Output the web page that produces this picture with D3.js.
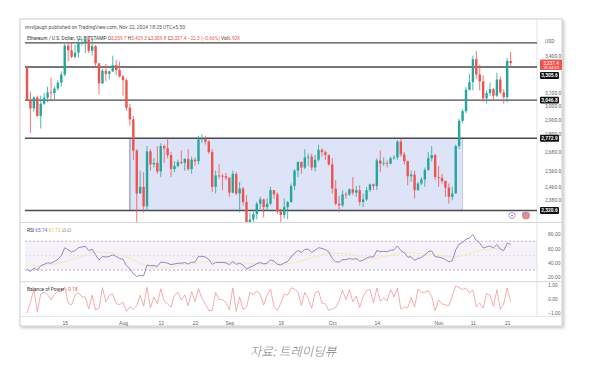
<!DOCTYPE html>
<html><head><meta charset="utf-8">
<script src="https://cdn.jsdelivr.net/npm/d3@7"></script>
<style>body{margin:0;background:#fff;}svg{display:block;font-family:Roboto,"Noto Sans",sans-serif;}</style>
</head><body><svg id="c" width="606" height="366"></svg>
<script>
// ---- data ----
const startDate = "2024-07-04", endDate = "2024-11-22";
const open = [3305,3050,2985,3065,2930,3020,3065,3105,3100,3135,
3180,3245,3485,3445,3390,3425,3505,3515,3535,3440,
3480,3335,3175,3275,3250,3270,3320,3280,3230,3200,
2990,2905,2690,2420,2460,2345,2685,2600,2610,2555,
2720,2705,2660,2570,2590,2615,2610,2635,2570,2630,
2620,2765,2770,2750,2680,2460,2530,2528,2525,2515,
2425,2540,2420,2450,2370,2225,2270,2300,2360,2385,
2340,2360,2440,2415,2315,2295,2340,2370,2465,2560,
2615,2580,2645,2650,2580,2630,2695,2680,2660,2600,
2450,2360,2350,2415,2414,2445,2425,2440,2370,2385,
2440,2475,2465,2625,2605,2610,2605,2640,2645,2750,
2665,2620,2525,2535,2440,2480,2505,2565,2640,2660,
2520,2515,2495,2455,2400,2420,2720,2895,2965,3125,
3185,3370,3245,3190,3060,3100,3130,3080,3205,3105,
3070,3355];
const high = [3310,3110,3075,3080,3080,3100,3150,3220,3150,3200,
3270,3500,3500,3515,3490,3545,3540,3545,3560,3540,
3490,3340,3290,3330,3275,3400,3365,3350,3240,3215,
3020,2930,2700,2560,2550,2720,2700,2640,2720,2740,
2730,2780,2680,2620,2630,2690,2640,2700,2650,2645,
2790,2800,2790,2760,2700,2560,2600,2540,2545,2520,
2560,2550,2490,2460,2410,2310,2325,2370,2400,2390,
2390,2460,2440,2425,2330,2390,2375,2480,2570,2620,
2620,2700,2670,2670,2660,2730,2705,2690,2665,2640,
2500,2405,2440,2430,2450,2520,2465,2470,2420,2460,
2480,2480,2640,2690,2645,2625,2650,2660,2760,2770,
2680,2625,2560,2560,2490,2520,2580,2680,2720,2670,
2590,2540,2500,2480,2460,2730,2910,2980,3145,3250,
3400,3440,3325,3240,3120,3180,3140,3260,3230,3130,
3380,3430];
const low = [3050,2810,2960,2925,2840,3010,3030,3050,3050,3120,
3150,3230,3350,3380,3375,3380,3485,3420,3420,3400,
3300,3090,3170,3190,3205,3265,3240,3220,3080,2970,
2860,2630,2110,2420,2310,2320,2560,2580,2540,2520,
2610,2640,2520,2550,2580,2600,2560,2560,2540,2590,
2600,2740,2730,2670,2430,2420,2510,2440,2500,2400,
2420,2410,2310,2350,2150,2220,2230,2270,2330,2280,
2320,2350,2390,2300,2255,2275,2270,2365,2440,2520,
2540,2570,2590,2560,2555,2620,2650,2630,2590,2420,
2350,2310,2340,2390,2405,2410,2400,2350,2340,2375,
2430,2440,2440,2550,2590,2580,2600,2630,2630,2650,
2600,2470,2490,2390,2435,2470,2460,2560,2620,2500,
2460,2480,2400,2360,2380,2420,2700,2880,2950,3120,
3120,3210,3120,3035,3020,3080,3040,3070,3090,3020,
3030,3310];
const close = [3050,2985,3065,2930,3020,3065,3105,3100,3135,3180,
3245,3485,3445,3390,3425,3505,3515,3535,3440,3480,
3335,3175,3275,3250,3270,3320,3280,3230,3200,2990,
2905,2690,2420,2460,2345,2685,2600,2610,2555,2720,
2705,2660,2570,2590,2615,2610,2635,2570,2630,2620,
2765,2770,2750,2680,2460,2530,2528,2525,2515,2425,
2540,2420,2450,2370,2225,2270,2300,2360,2385,2340,
2360,2440,2415,2315,2295,2340,2370,2465,2560,2615,
2580,2645,2650,2580,2630,2695,2680,2660,2600,2450,
2360,2350,2415,2414,2445,2425,2440,2370,2385,2440,
2475,2465,2625,2605,2610,2605,2640,2645,2750,2665,
2620,2525,2535,2440,2480,2505,2565,2640,2660,2520,
2515,2495,2455,2400,2420,2720,2895,2965,3125,3185,
3370,3245,3190,3060,3100,3130,3080,3205,3105,3070,
3355,3337.4];
const rsi = [31,28,33,30,36,38,40,39.5,42,45,
50,61,58,55,57,61,62,63,57,59,
51,44,49,48,49,51,49,46,45,36,
32,25,21,23,22,37,36,36.5,35,41,
40.5,39.5,37.5,38.5,39.5,39.5,40.5,38.5,41,41,
49,49,48,45,38,40.5,40.5,40.5,40,37.5,
42,38,39.5,37,31.5,34,36,39,40.5,38.5,
39.5,44,42.5,38,37,40,42,48,53.5,57,
54.5,58.5,59,54.5,57.5,61,60,58.5,55,46,
41.5,41,44.5,44.5,46,45,46,42.5,43.5,46.5,
48.5,48,57,55.5,56,55.5,57.5,58,63.5,57,
54,48,48.5,43.5,46,47.5,51,55.5,56.5,48.5,
48,47,44.5,41.5,43,58,66,68.5,73,74.5,
79,71,67.5,60.5,62,63.5,60.5,65.5,59,57,
67,65.74];
const rsiMA = [38,37,36.5,36,36,36.5,37,37.5,38,39,
40,41.5,43,44.5,46,47.5,49,51,52.5,54,
54.5,55,55,54.5,54,53,52,51,50,48.5,
46.5,44,41.5,39.5,37.5,36.5,35.5,34.5,33.5,33,
32.5,33,34,35.5,36.5,37.5,38.5,38.5,38.5,39,
40,41,41.5,42,42,42,42,42,42,41.5,
41.5,41,40.5,40,39.5,39,38.5,38.5,38.5,38.5,
38.5,38.5,38.5,38.5,38.5,38.5,39,39.5,40.5,41.5,
42.5,44,45.5,46.5,48,49.5,51,52,53,53.5,
53.5,53,53,52.5,52,51,50,48.5,47.5,46.5,
46,46,46.5,47.5,48.5,49.5,50.5,51.5,53,54,
54.5,54.5,54,53.5,53,52.5,52,51.5,51.5,51,
50.5,50,49.5,48.5,48,48.5,49,50,51.5,53,
54.5,56,57,58,58.5,59,59.5,60,60.5,61,
61.5,61.7];
const bop = [-0.98,-0.22,0.70,-0.87,0.38,0.50,0.33,-0.03,0.35,0.56,
0.54,0.89,-0.27,-0.41,0.30,0.48,0.18,0.16,-0.68,0.29,
-0.76,-0.64,0.83,-0.18,0.29,0.37,-0.32,-0.38,-0.19,-0.86,
-0.53,-0.72,-0.46,0.29,-0.48,0.85,-0.61,0.17,-0.31,0.75,
-0.13,-0.32,-0.56,0.29,0.50,-0.06,0.31,-0.46,0.55,-0.18,
0.76,0.08,-0.33,-0.78,-0.81,0.50,-0.02,-0.03,-0.22,-0.75,
0.82,-0.86,0.17,-0.73,-0.56,0.50,0.32,0.60,0.36,-0.41,
0.29,0.73,-0.50,-0.80,-0.27,0.39,0.29,0.83,0.73,0.55,
-0.44,0.50,0.06,-0.64,0.48,0.59,-0.27,-0.33,-0.80,-0.68,
-0.60,-0.11,0.65,-0.03,0.69,-0.18,0.23,-0.58,0.19,0.65,
0.70,-0.25,0.80,-0.14,0.09,-0.11,0.70,0.17,0.81,-0.71,
-0.56,-0.61,0.14,-0.56,0.73,0.50,0.50,0.63,0.20,-0.82,
-0.04,-0.33,-0.40,-0.46,0.25,0.97,0.83,0.70,0.82,0.46,
0.66,-0.54,-0.27,-0.63,0.40,0.30,-0.50,0.66,-0.71,-0.32,
0.81,-0.18];
const xTickDates = ["2024-07-15","2024-08-01","2024-08-12","2024-08-22","2024-09-01","2024-09-16","2024-10-01","2024-10-14","2024-11-01","2024-11-11","2024-11-21"];
const xTickLabels = ["15","Aug","12","22","Sep","16","Oct","14","Nov","11","21"];
const priceTicks = [3400,3100,3000,2900,2800,2680,2560,2460,2380];
const levelLines = [3508,3305.6,3046.8,2772.9,2320.6];
const levelBadges = [3305.6,3046.8,2772.9,2320.6];
const rangeBox = {from:"2024-08-03", to:"2024-11-08", top:2772.9, bottom:2320.6};
const lastPrice = 3337.4;
const rsiTicks = [80,60,40,20];
const rsiBands = [70,50,30];
const bopTicks = [1,0,-1];

// ---- setup ----
const svg = d3.select("#c");
const P = s => new Date(s+"T00:00:00Z");
const dates = d3.utcDay.range(P(startDate), d3.utcDay.offset(P(endDate),1));
const L = 25, R = 537;
const x = d3.scaleUtc().domain([P(startDate), P(endDate)]).range([27, 510.6]);
const y = d3.scaleLog().domain([2320.6, 3305.6]).range([210.5, 67]);
const yR = d3.scaleLinear().domain([20,80]).range([277.3,234]);
const yB = d3.scaleLinear().domain([-1,1]).range([313.3,285.3]);
const up="#26a69a", dn="#ef5350";
const fmt = d3.format(",.1f");

// frame with shadow
const defs = svg.append("defs");
const f = defs.append("filter").attr("id","sh").attr("x","-5%").attr("y","-5%").attr("width","110%").attr("height","110%");
f.append("feDropShadow").attr("dx",1.5).attr("dy",1.5).attr("stdDeviation",1.5).attr("flood-color","#000").attr("flood-opacity",0.25);
svg.append("rect").attr("x",20).attr("y",19).attr("width",542).attr("height",307).attr("fill","#fff").attr("stroke","#cfcfcf").attr("filter","url(#sh)");
defs.append("clipPath").attr("id","mc").append("rect").attr("x",L).attr("y",36).attr("width",R-L).attr("height",186);

// header
svg.append("text").attr("x",25).attr("y",29).attr("font-size",4.8).attr("fill","#555")
  .attr("textLength",160).attr("lengthAdjust","spacingAndGlyphs")
  .text("invvljaugh published on TradingView.com, Nov 22, 2024 18:25 UTC+5:30");
const h2 = svg.append("text").attr("x",27).attr("y",39.5).attr("font-size",4.8);
h2.append("tspan").attr("fill","#333").text("Ethereum / U.S. Dollar, 1D, BITSTAMP ");
h2.append("tspan").attr("fill","#333").text(" O");
h2.append("tspan").attr("fill",dn).text("3,359.7 ");
h2.append("tspan").attr("fill","#333").text("H");
h2.append("tspan").attr("fill",dn).text("3,429.3 ");
h2.append("tspan").attr("fill","#333").text("L");
h2.append("tspan").attr("fill",dn).text("3,309.8 ");
h2.append("tspan").attr("fill","#333").text("C");
h2.append("tspan").attr("fill",dn).text("3,337.4 −22.3 (−0.66%) ");
h2.append("tspan").attr("fill","#333").text(" Vol");
h2.append("tspan").attr("fill",dn).text("6.92K");

// pane separators
svg.append("line").attr("x1",20).attr("x2",562).attr("y1",222.5).attr("y2",222.5).attr("stroke","#d6d6d6");
svg.append("line").attr("x1",20).attr("x2",562).attr("y1",281.7).attr("y2",281.7).attr("stroke","#d6d6d6");
svg.append("line").attr("x1",20).attr("x2",562).attr("y1",316.5).attr("y2",316.5).attr("stroke","#e6e6e6");
svg.append("line").attr("x1",R).attr("x2",R).attr("y1",19).attr("y2",316.5).attr("stroke","#e3e3e3");

// main pane
const main = svg.append("g").attr("clip-path","url(#mc)");
main.append("rect").attr("x",x(P(rangeBox.from))).attr("y",y(rangeBox.top))
  .attr("width",x(P(rangeBox.to))-x(P(rangeBox.from))).attr("height",y(rangeBox.bottom)-y(rangeBox.top))
  .attr("fill","#dde4f8").attr("stroke","#b9c3e2").attr("stroke-width",0.8);
main.append("line").attr("x1",x(P(rangeBox.from))).attr("x2",x(P(rangeBox.from)))
  .attr("y1",y(rangeBox.top)).attr("y2",y(rangeBox.bottom)).attr("stroke","#8e97b5").attr("stroke-width",1);
main.selectAll(".lvl").data(levelLines).join("line")
  .attr("x1",L).attr("x2",R).attr("y1",d=>y(d)).attr("y2",d=>y(d))
  .attr("stroke","#4a4a4a").attr("stroke-width",1.3);
const cw = 2.4;
const cg = main.selectAll(".cd").data(dates).join("g");
cg.append("line").attr("x1",(d)=>x(d)).attr("x2",(d)=>x(d))
  .attr("y1",(d,i)=>y(high[i])).attr("y2",(d,i)=>y(low[i]))
  .attr("stroke",(d,i)=>close[i]>=open[i]?up:dn).attr("stroke-width",0.8);
cg.append("rect").attr("x",d=>x(d)-cw/2).attr("width",cw)
  .attr("y",(d,i)=>y(Math.max(open[i],close[i])))
  .attr("height",(d,i)=>Math.max(0.8,Math.abs(y(open[i])-y(close[i]))))
  .attr("fill",(d,i)=>close[i]>=open[i]?up:dn);

// icons
svg.append("circle").attr("cx",512).attr("cy",215.5).attr("r",3).attr("fill","#fff").attr("stroke","#b388d9").attr("stroke-width",0.9);
svg.append("circle").attr("cx",512).attr("cy",215.5).attr("r",1).attr("fill","#b388d9");
svg.append("circle").attr("cx",526).attr("cy",215.5).attr("r",4).attr("fill","#e88a8a");
svg.append("rect").attr("x",522.5).attr("y",212).attr("width",3.5).attr("height",3).attr("fill","#8aa0d8");

// price axis
const pa = svg.append("g").attr("transform",`translate(${R},0)`)
  .call(d3.axisRight(y).tickValues(priceTicks).tickFormat(fmt).tickSize(0).tickPadding(8));
pa.select(".domain").remove();
pa.selectAll("text").attr("font-size",5).attr("fill","#666").attr("font-family","Roboto,sans-serif");
svg.append("text").attr("x",545).attr("y",42.5).attr("font-size",5).attr("fill","#666").text("USD");

// badges
const badgeY = [75.5, y(3046.8), y(2772.9), y(2320.6)];
const bg = svg.selectAll(".bdg").data(levelBadges).join("g");
bg.append("rect").attr("x",540).attr("y",(d,i)=>badgeY[i]-3.4).attr("width",19).attr("height",6.8).attr("rx",1).attr("fill","#111");
bg.append("text").attr("x",549.5).attr("y",(d,i)=>badgeY[i]+1.8).attr("text-anchor","middle")
  .attr("font-size",4.8).attr("font-weight","bold").attr("fill","#fff").text(d=>fmt(d));
svg.append("rect").attr("x",540).attr("y",y(lastPrice)-3.5).attr("width",22).attr("height",10.5).attr("rx",1).attr("fill",dn);
svg.append("text").attr("x",551).attr("y",y(lastPrice)+1.5).attr("text-anchor","middle").attr("font-size",4.8).attr("fill","#fff").text(fmt(lastPrice));
svg.append("text").attr("x",551).attr("y",y(lastPrice)+6).attr("text-anchor","middle").attr("font-size",4.2).attr("fill","#fff").text("10:34:52");

// RSI pane
svg.append("rect").attr("x",L).attr("width",R-L).attr("y",yR(70)).attr("height",yR(30)-yR(70)).attr("fill","#7e57c2").attr("fill-opacity",0.08);
svg.selectAll(".rb").data(rsiBands).join("line").attr("x1",L).attr("x2",R).attr("y1",d=>yR(d)).attr("y2",d=>yR(d))
  .attr("stroke",d=>d===50?"#d4cfe0":"#a09ab5").attr("stroke-width",0.7).attr("stroke-dasharray","2,2");
svg.append("path").datum(rsiMA).attr("fill","none").attr("stroke","#f3e9a6").attr("stroke-width",0.8)
  .attr("d",d3.line().x((d,i)=>x(dates[i])).y(d=>yR(d)));
svg.append("path").datum(rsi).attr("fill","none").attr("stroke","#8b78c4").attr("stroke-width",0.9)
  .attr("d",d3.line().x((d,i)=>x(dates[i])).y(d=>yR(d)));
const ra = svg.append("g").attr("transform",`translate(${R},0)`)
  .call(d3.axisRight(yR).tickValues(rsiTicks).tickFormat(d3.format(".2f")).tickSize(0).tickPadding(11));
ra.select(".domain").remove();
ra.selectAll("text").attr("font-size",5).attr("fill","#666");
const rl = svg.append("text").attr("x",27).attr("y",231.5).attr("font-size",4.8);
rl.append("tspan").attr("fill","#333").text("RSI  ");
rl.append("tspan").attr("fill","#7e57c2").text("65.74  ");
rl.append("tspan").attr("fill","#d4c24a").text("61.72  ");
rl.append("tspan").attr("fill","#666").text("∅  ∅");

// BOP pane
svg.append("path").datum(bop).attr("fill","none").attr("stroke","#f08a8a").attr("stroke-width",0.7)
  .attr("d",d3.line().x((d,i)=>x(dates[i])).y(d=>yB(d)));
const ba = svg.append("g").attr("transform",`translate(${R},0)`)
  .call(d3.axisRight(yB).tickValues(bopTicks).tickFormat(d=>d3.format(".2f")(d).replace("-","−")).tickSize(0).tickPadding(11));
ba.select(".domain").remove();
ba.selectAll("text").attr("font-size",5).attr("fill","#666");
const bl = svg.append("text").attr("x",27).attr("y",290.5).attr("font-size",4.8);
bl.append("tspan").attr("fill","#333").text("Balance of Power  ");
bl.append("tspan").attr("fill",dn).text("−0.18");

// x axis
const xa = svg.append("g").attr("transform","translate(0,318)")
  .call(d3.axisBottom(x).tickValues(xTickDates.map(P)).tickFormat((d,i)=>xTickLabels[i]).tickSize(0).tickPadding(3));
xa.select(".domain").remove();
xa.selectAll("text").attr("font-size",5).attr("fill","#666");

// caption
svg.append("text").attr("x",293).attr("y",356).attr("text-anchor","middle")
  .attr("font-family","'Noto Sans CJK KR',sans-serif").attr("font-style","italic").attr("font-weight",300)
  .attr("font-size",12.5).attr("fill","#808080").text("자료: 트레이딩뷰");
</script></body></html>
